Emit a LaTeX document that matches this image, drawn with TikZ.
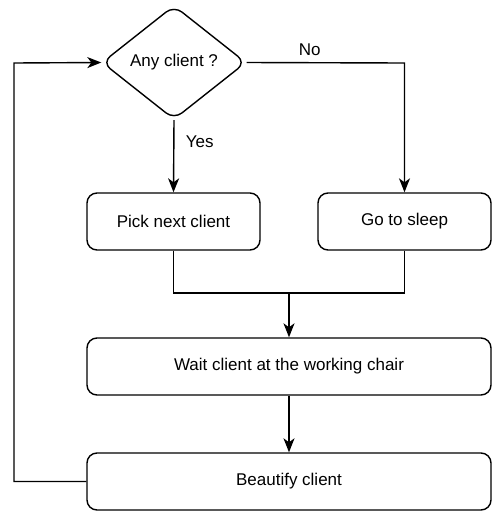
\documentclass[tikz,border=0pt]{standalone}
\usepackage{fontspec}
\setmainfont{Liberation Sans}
\usetikzlibrary{shapes.geometric,arrows.meta}
\begin{document}
\begin{tikzpicture}[x=1pt,y=-1pt,
  every node/.style={font=\fontsize{17}{20}\selectfont},
  box/.style={draw, line width=1.4pt, rounded corners=10pt, minimum height=57pt, inner sep=0pt},
  dec/.style={draw, line width=1.4pt, diamond, rounded corners=10pt, minimum width=144pt, minimum height=114pt, inner sep=0pt},
  conn/.style={line width=1.4pt},
  arr/.style={line width=1.4pt, -{Stealth[length=14pt,width=11pt,inset=4pt]}},
  lbl/.style={font=\fontsize{17}{20}\selectfont}
]
\useasboundingbox (0,0) rectangle (499,520);
\node[dec] (q) at (174,62.5) {Any client ?};
\node[box, minimum width=173pt] (pick) at (173.5,221.5) {Pick next client};
\node[box, minimum width=173pt] (sleep) at (404.5,221.5) {Go to sleep};
\node[box, minimum width=404pt] (wait) at (289,366.5) {Wait client at the working chair};
\node[box, minimum width=404pt] (beau) at (289,481.5) {Beautify client};
\coordinate (j) at (289,293);
\coordinate (nl) at (404.5,63);
\coordinate (bl) at (14,481.5);
\coordinate (tl) at (14,63);

\draw[arr] (q.south) -- node[lbl, right=8pt, pos=0.3] {Yes} (pick.north);
\draw[arr] (q.east) -- node[lbl, above=3pt, pos=0.4] {No} (nl) -- (sleep.north);
\draw[conn] (pick.south) |- (j);
\draw[conn] (sleep.south) |- (j);
\draw[arr] (j) -- (wait.north);
\draw[arr] (wait.south) -- (beau.north);
\draw[arr] (beau.west) -- (bl) -- (tl) -- (q.west);
\end{tikzpicture}
\end{document}
